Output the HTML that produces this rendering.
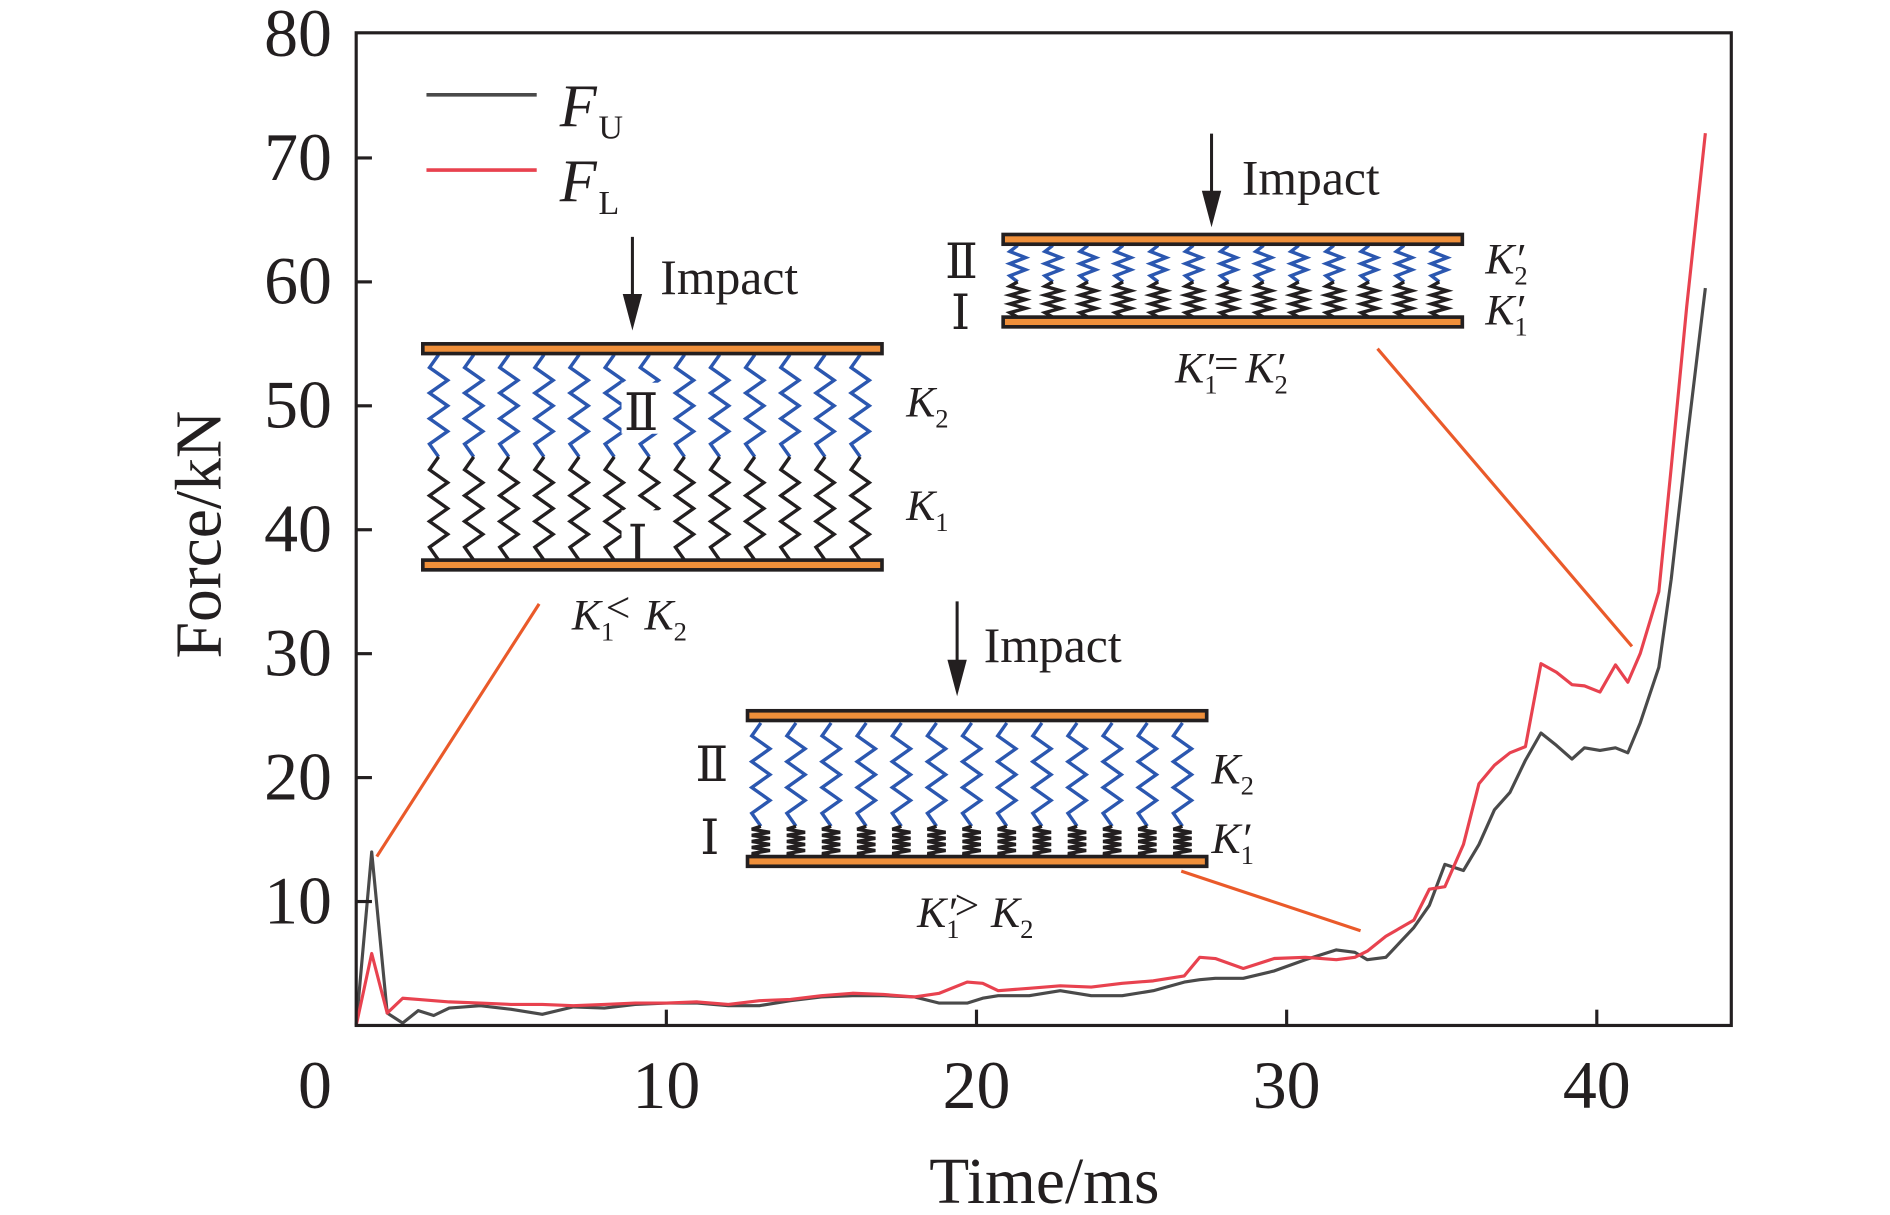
<!DOCTYPE html>
<html><head><meta charset="utf-8">
<style>
html,body{margin:0;padding:0;background:#fff;}
svg{display:block;}
svg text{font-family:"Liberation Serif","DejaVu Serif",serif;fill:#231f20;}
</style></head>
<body>
<svg id="chart" width="1890" height="1215" viewBox="0 0 1560 1000" preserveAspectRatio="none" font-family="Liberation Serif, DejaVu Serif, serif" xmlns="http://www.w3.org/2000/svg">
<g id="insets"></g>
<g id="plot"></g>
</svg>
<script>
const times = [0,0.5,1,1.5,2,2.5,3,4,5,6,7,8,9,10,11,12,13,14,15,16,17,18,18.8,19.7,20.2,20.7,21.7,22.7,23.7,24.7,25.7,26.7,27.2,27.7,28.6,29.6,30.6,31.6,32.2,32.6,33.2,34.1,34.6,35.1,35.7,36.2,36.7,37.2,37.7,38.2,38.7,39.2,39.6,40.1,40.6,41.0,41.4,42.0,42.4,42.9,43.5];
const forceU = [0,14,1,0.2,1.2,0.8,1.4,1.6,1.3,0.9,1.5,1.4,1.7,1.8,1.8,1.6,1.6,2,2.3,2.4,2.4,2.3,1.8,1.8,2.2,2.4,2.4,2.8,2.4,2.4,2.8,3.5,3.7,3.8,3.8,4.4,5.3,6.1,5.9,5.3,5.5,7.9,9.7,13,12.5,14.6,17.4,18.8,21.4,23.6,22.6,21.5,22.4,22.2,22.4,22,24.4,28.9,36,47,59.5];
const forceL = [0,5.8,1,2.2,2.1,2,1.9,1.8,1.7,1.7,1.6,1.7,1.8,1.8,1.9,1.7,2,2.1,2.4,2.6,2.5,2.3,2.6,3.5,3.4,2.8,3,3.2,3.1,3.4,3.6,4,5.5,5.4,4.6,5.4,5.5,5.3,5.5,6,7.2,8.5,11,11.2,14.6,19.5,21,22,22.5,29.2,28.5,27.5,27.4,26.9,29.1,27.7,30,35,45,58,72];
const xTicks = [0,10,20,30,40];
const yTicks = [10,20,30,40,50,60,70,80];

const NS='http://www.w3.org/2000/svg';
const L=294,R=1429,T=27,B=844;
const xs=t=>L+t*25.6;
const ys=v=>B-v*10.2;
function mk(tag,attrs,parent){const e=document.createElementNS(NS,tag);for(const k in attrs)e.setAttribute(k,attrs[k]);parent.appendChild(e);return e;}
const plot=document.getElementById('plot');
const ins=document.getElementById('insets');

function series(vals,color,name){
  const d=times.map((t,i)=>(i?'L':'M')+xs(t).toFixed(1)+' '+ys(vals[i]).toFixed(1)).join(' ');
  const p=mk('path',{d:d,fill:'none',stroke:color,'stroke-width':2.6,'stroke-linejoin':'round'},plot);
  
  
}
series(forceU,'#4a4a4a','series-f-u');
series(forceL,'#e8424f','series-f-l');

const fr=mk('rect',{x:L,y:T,width:R-L,height:B-T,fill:'none',stroke:'#231f20','stroke-width':2.6},plot);


xTicks.forEach(t=>{
  if(t>0){const tk=mk('line',{x1:xs(t),x2:xs(t),y1:B,y2:B-13,stroke:'#231f20','stroke-width':2.6},plot);
  
  }
  const tx=mk('text',{x:xs(t)+(t===0?-34:0),y:912,'text-anchor':'middle','font-size':56},plot);
  tx.textContent=t;
  
  
});
yTicks.forEach(v=>{
  if(v<80){const tk=mk('line',{x1:L,x2:L+13,y1:ys(v),y2:ys(v),stroke:'#231f20','stroke-width':2.6},plot);
  
  }
  const tx=mk('text',{x:274,y:ys(v)+18,'text-anchor':'end','font-size':56},plot);
  tx.textContent=v;
  
  
});
const xt=mk('text',{x:862,y:990,'text-anchor':'middle','font-size':54},plot);
xt.textContent='Time/ms';


const yt=mk('text',{x:0,y:0,'text-anchor':'middle','font-size':54,transform:'translate(182,440) rotate(-90)'},plot);
yt.textContent='Force/kN';



[['#4a4a4a','U',78],['#e8424f','L',140]].forEach(([c,s,y])=>{
  const g=mk('g',{},plot);
  
  
  mk('line',{x1:352,x2:443,y1:y,y2:y,stroke:c,'stroke-width':3},g);
  const t=mk('text',{x:462,y:y+26,'font-size':50,'font-style':'italic'},g);
  t.textContent='F';
  const sb=mk('text',{x:494,y:y+36,'font-size':28},g);
  sb.textContent=s;
});

function spring(x,y1,y2,teeth,color,w,g){
  const n=teeth*2;let d='M'+x+' '+y1;
  for(let i=1;i<n;i++){d+=' L'+(x+(i%2?-w/2:w/2))+' '+(y1+(y2-y1)*i/n);}
  d+=' L'+x+' '+y2;
  mk('path',{d:d,fill:'none',stroke:color,'stroke-width':2.8,'stroke-linejoin':'miter'},g);
}
function plate(x1,x2,y,g){
  mk('rect',{x:x1,y:y,width:x2-x1,height:8,fill:'#ef8f3a',stroke:'#231f20','stroke-width':3},g);
}
function arrow(x,y1,y2,g){
  mk('line',{x1:x,x2:x,y1:y1,y2:y2-20,stroke:'#231f20','stroke-width':2.5},g);
  mk('path',{d:`M${x-8} ${y2-30} L${x+8} ${y2-30} L${x} ${y2} Z`,fill:'#231f20'},g);
}
function txt(x,y,s,size,g,style){const t=mk('text',{x:x,y:y,'font-size':size},g);if(style)t.setAttribute('font-style',style);t.textContent=s;return t;}
function klabel(x,y,sub,prime,g){
  const t=mk('text',{x:x,y:y,'font-size':36,'font-style':'italic'},g);
  t.textContent='K'+(prime?'′':'');
  const s=mk('text',{x:x+24,y:y+9,'font-size':22},g);s.textContent=sub;
}
function pointer(x1,y1,x2,y2,name){
  const l=mk('line',{x1:x1,y1:y1,x2:x2,y2:y2,stroke:'#ea5a2a','stroke-width':2.6},ins);
  
  
}
(function(){
  const g=mk('g',{},ins);
  
  
  arrow(522,195,272,g);
  txt(545,242,'Impact',41,g);
  for(let i=0;i<13;i++){const x=362+i*29;spring(x,292,376,4,'#2b57b0',15,g);spring(x,376,461,4,'#231f20',15,g);}
  mk('rect',{x:513,y:315,width:36,height:42,fill:'#fff'},g);
  mk('rect',{x:513,y:420,width:36,height:46,fill:'#fff'},g);
  txt(515,354,'Ⅱ',42,g);txt(518,462,'Ⅰ',42,g);
  plate(349,728,283,g);plate(349,728,461,g);
  klabel(748,343,'2',false,g);klabel(748,428,'1',false,g);
  klabel(472,518,'1',false,g);txt(500,512,'<',36,g);klabel(532,518,'2',false,g);
})();
pointer(445,497,311,705,'pointer-line-1');
(function(){
  const g=mk('g',{},ins);
  
  
  arrow(1000,110,187,g);
  txt(1025,160,'Impact',41,g);
  for(let i=0;i<13;i++){const x=840+i*29;spring(x,202,232,3,'#2b57b0',13,g);spring(x,232,261,4,'#231f20',13,g);}
  txt(780,229,'Ⅱ',40,g);txt(785,271,'Ⅰ',40,g);
  plate(828,1207,193,g);plate(828,1207,261,g);
  klabel(1226,225,'2',true,g);klabel(1226,267,'1',true,g);
  klabel(970,315,'1',true,g);txt(1002,311,'=',36,g);klabel(1028,315,'2',true,g);
})();
pointer(1137,287,1347,532,'pointer-line-2');
(function(){
  const g=mk('g',{},ins);
  
  
  arrow(790,495,573,g);
  txt(812,545,'Impact',41,g);
  for(let i=0;i<13;i++){const x=628+i*29;spring(x,595,680,4,'#2b57b0',15,g);spring(x,680,705,5,'#231f20',15,g);}
  txt(574,643,'Ⅱ',40,g);txt(578,703,'Ⅰ',40,g);
  plate(617,996,585,g);plate(617,996,705,g);
  klabel(1000,645,'2',false,g);klabel(1000,702,'1',true,g);
  klabel(757,763,'1',true,g);txt(788,757,'>',36,g);klabel(818,763,'2',false,g);
})();
pointer(975,717,1123,766,'pointer-line-3');
</script>
</body></html>
